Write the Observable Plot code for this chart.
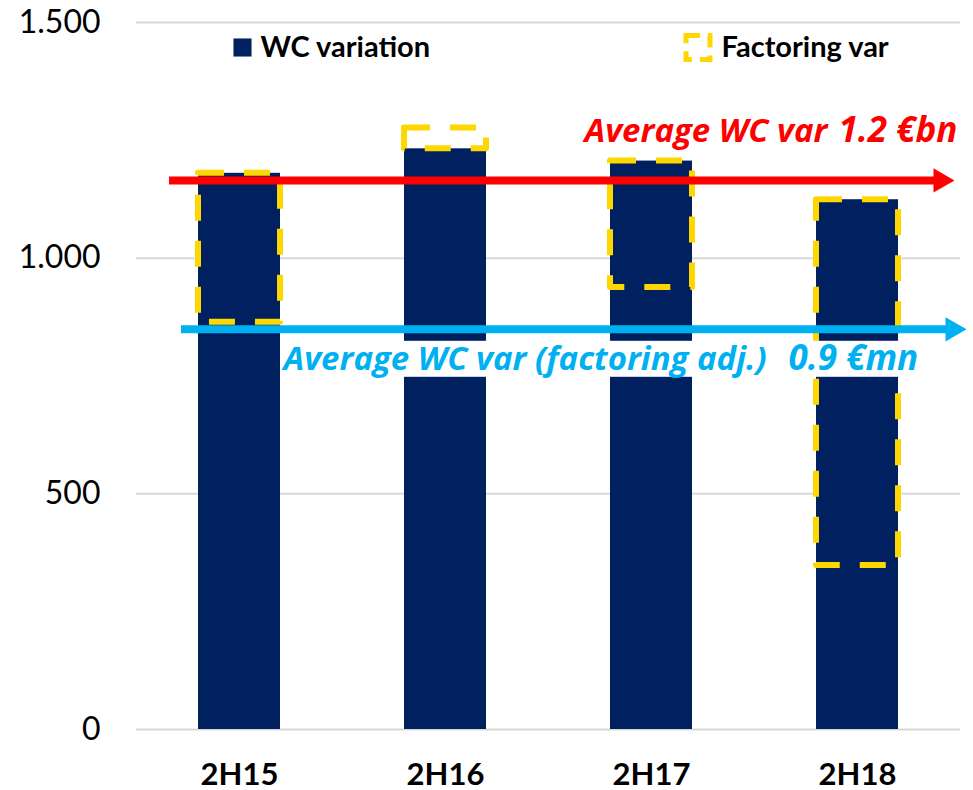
<!DOCTYPE html>
<html><head><meta charset="utf-8">
<script src="https://cdn.jsdelivr.net/npm/d3@7"></script>
<script src="https://cdn.jsdelivr.net/npm/@observablehq/plot@0.6"></script>
<style>body{margin:0;background:#fff;} #chart{position:relative;width:973px;height:790px;}</style>
</head><body><div id="chart"></div>
<script>
const categories = ["2H15", "2H16", "2H17", "2H18"];
const wcVariation = [1180, 1232, 1206, 1124];
const factoringFrom = [864, 1232, 938, 348];
const factoringTo = [1180, 1276, 1206, 1124];
const avgWc = [1165];
const avgWcAdj = [849];
const yTicks = [0, 500, 1000, 1500];
const legendLabels = ["WC variation", "Factoring var"];
const avgWcLabel = ["Average WC var", "1.2 €bn"];
const avgAdjLabel = ["Average WC var (factoring adj.)", "0.9 €mn"];

const NAVY = "#002060", GOLD = "#FFD700", RED = "#FF0000", CYAN = "#00B0F0";
const FONT = "Lato, 'Open Sans', sans-serif";
const NOTE_FONT = "'Open Sans', Lato, sans-serif";
const fmt = d3.formatLocale({decimal: ",", thousands: ".", grouping: [3], currency: ["", "€"]}).format(",d");

const bars = categories.map((c, i) => ({cat: c, value: wcVariation[i]}));
const factoring = categories.map((c, i) => ({cat: c, from: factoringFrom[i], to: factoringTo[i]}));

const italicBold = {fontStyle: "italic", fontWeight: "bold", lineAnchor: "middle", fontFamily: NOTE_FONT};

const plot = Plot.plot({
  width: 973, height: 790,
  marginTop: 22, marginBottom: 61, marginLeft: 136, marginRight: 13,
  style: {fontFamily: FONT, background: "#fff", color: "#000", overflow: "visible"},
  x: {domain: categories, paddingInner: 0.6, paddingOuter: 0.3, label: null},
  y: {domain: [0, 1500], label: null},
  marks: [
    Plot.gridY(yTicks, {stroke: "#d9d9d9", strokeOpacity: 1, strokeWidth: 2}),
    Plot.axisY(yTicks, {tickSize: 0, tickPadding: 36, tickFormat: fmt, fontSize: 32, label: null}),
    Plot.axisX({tickSize: 0, tickPadding: 33, fontSize: 31, fontWeight: "bold", label: null}),
    Plot.barY(bars, {x: "cat", y: "value", fill: NAVY}),
    Plot.barY(factoring, {x: "cat", y1: "from", y2: "to", fill: "none", stroke: GOLD, strokeWidth: 6,
      strokeDasharray: "26,20", strokeLinejoin: "round"}),
    // red average arrow
    Plot.ruleY(avgWc, {stroke: RED, strokeWidth: 8, insetLeft: 33, insetRight: 26}),
    Plot.dot(avgWc, {y: d => d, frameAnchor: "right", symbol: "triangle", r: 9, fill: RED, rotate: 90, dx: -20}),
    Plot.text(avgWc, {y: d => d, text: () => avgWcLabel[0], frameAnchor: "left", textAnchor: "end",
      dx: 691, dy: -48.5, fontSize: 33, fill: RED, ...italicBold}),
    Plot.text(avgWc, {y: d => d, text: () => avgWcLabel[1], frameAnchor: "left", textAnchor: "start",
      dx: 702, dy: -49.4, fontSize: 35, fill: RED, ...italicBold}),
    // blue adjusted average arrow
    Plot.ruleY(avgWcAdj, {stroke: CYAN, strokeWidth: 8, insetLeft: 45, insetRight: 14}),
    Plot.dot(avgWcAdj, {y: d => d, frameAnchor: "right", symbol: "triangle", r: 9, fill: CYAN, rotate: 90, dx: -8}),
    Plot.text(avgWcAdj, {y: d => d, text: () => avgAdjLabel[0], frameAnchor: "left", textAnchor: "start",
      dx: 147, dy: 30.5, fontSize: 33, fill: CYAN, ...italicBold}),
    Plot.text(avgWcAdj, {y: d => d, text: () => avgAdjLabel[1], frameAnchor: "left", textAnchor: "start",
      dx: 652, dy: 29.6, fontSize: 35, fill: CYAN, ...italicBold}),
    // legend
    Plot.dot([legendLabels[0]], {frameAnchor: "top-left", dx: 106, dy: 25, symbol: "square", r: 10.2, fill: NAVY}),
    Plot.text([legendLabels[0]], {text: d => d, frameAnchor: "top-left", lineAnchor: "middle", textAnchor: "start",
      dx: 124, dy: 25.6, fontSize: 29, fontWeight: "bold"}),
    Plot.dot([legendLabels[1]], {frameAnchor: "top-left", dx: 561.5, dy: 25, symbol: "square", r: 13.5,
      fill: "none", stroke: GOLD, strokeWidth: 5, strokeDasharray: "14,8"}),
    Plot.text([legendLabels[1]], {text: d => d, frameAnchor: "top-left", lineAnchor: "middle", textAnchor: "start",
      dx: 585, dy: 25.6, fontSize: 29, fontWeight: "bold"})
  ]
});

document.getElementById("chart").append(plot);

function addNoteBackground() {
  const svg = plot;
  const sr = svg.getBoundingClientRect();
  const groups = [...svg.querySelectorAll("g")].filter(g => (g.getAttribute("fill") || "").toUpperCase() === CYAN && g.querySelector("text"));
  if (!groups.length) return;
  let x0 = Infinity, x1 = -Infinity, y0 = Infinity, y1 = -Infinity;
  groups.forEach((g, k) => g.querySelectorAll("text").forEach(t => {
    const b = t.getBoundingClientRect();
    x0 = Math.min(x0, b.left - sr.left);
    x1 = Math.max(x1, b.right - sr.left);
    if (k === 0) { y0 = Math.min(y0, b.top - sr.top); y1 = Math.max(y1, b.bottom - sr.top); }
  }));
  const h = y1 - y0;
  const rect = document.createElementNS("http://www.w3.org/2000/svg", "rect");
  rect.setAttribute("x", x0);
  rect.setAttribute("y", y0 + h * 0.12);
  rect.setAttribute("width", x1 - x0);
  rect.setAttribute("height", h * 0.8);
  rect.setAttribute("fill", "#fff");
  groups[0].parentNode.insertBefore(rect, groups[0]);
}
if (document.fonts && document.fonts.ready) document.fonts.ready.then(addNoteBackground); else addNoteBackground();
</script>
</body></html>
